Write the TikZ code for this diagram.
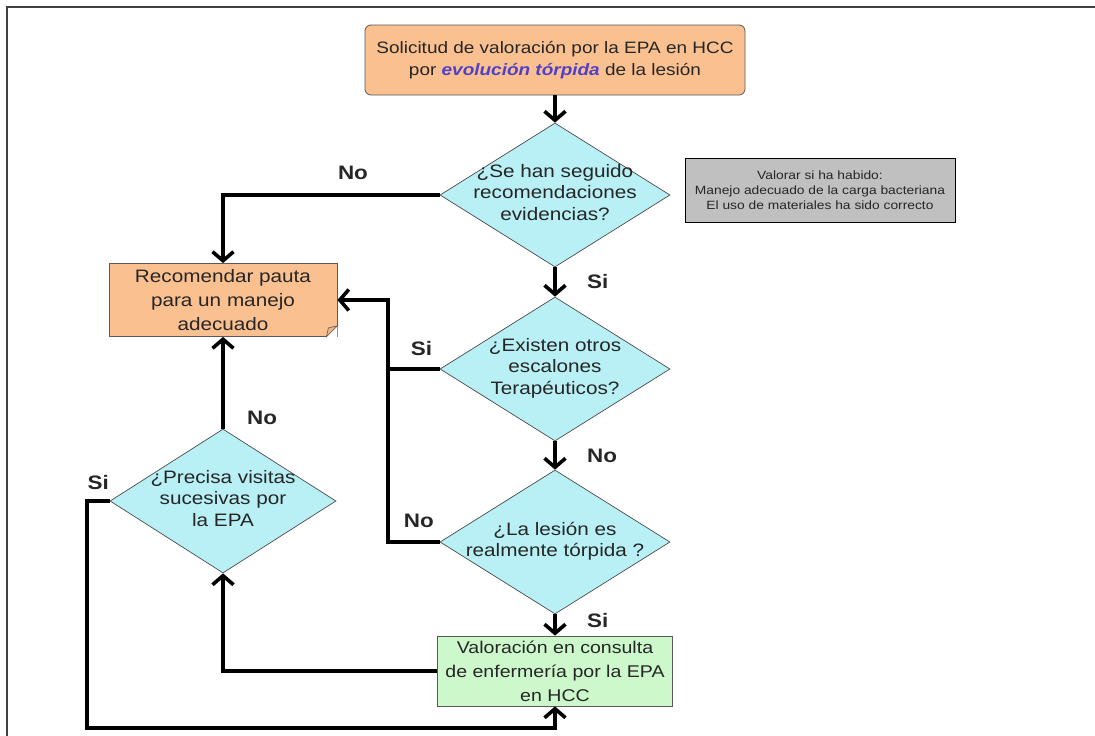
\documentclass[tikz,border=0pt]{standalone}
\usepackage{fontspec}
\setmainfont{Liberation Sans}[FakeStretch=1.15]
\usepackage{xcolor}
\usepackage{tikz}
\usetikzlibrary{arrows.meta,shapes.geometric}
\definecolor{orangex}{HTML}{FAC090}
\definecolor{cyanx}{HTML}{B8F0F5}
\definecolor{greenx}{HTML}{CCF8CC}
\definecolor{greyx}{HTML}{C0C0C0}
\definecolor{inkx}{HTML}{262626}
\definecolor{bluex}{HTML}{5040C8}
\definecolor{framex}{HTML}{404040}
\newcommand{\qtext}[1]{\raisebox{-4pt}[0pt][0pt]{\begin{tabular}{@{}c@{}}#1\end{tabular}}}
\tikzset{
  ar/.style={-{Straight Barb[length=9pt,width=21pt,line width=3.6pt]},line width=4.2pt,black},
  ln/.style={line width=4.2pt,black},
  box/.style={draw=gray!70!black,line width=0.8pt,inner sep=0pt,align=center,text=inkx},
  dec/.style={diamond,aspect=1.6,draw=gray!60!black,line width=0.7pt,fill=cyanx,inner sep=0pt,minimum width=230pt,minimum height=144pt,align=center,text=inkx,font=\fontsize{18}{21.5}\selectfont},
  lbl/.style={font=\fontsize{19.5}{22}\selectfont\bfseries,inner sep=0pt,text=inkx}
}
\begin{document}
\begin{tikzpicture}[x=1pt,y=-1pt]
\useasboundingbox (0,0) rectangle (1095,736);
\draw[framex,line width=1.5pt] (7,736) -- (7,7) -- (1095,7);
% boxes
\node[box,fill=orangex,rounded corners=6pt,minimum width=380pt,minimum height=70pt,font=\fontsize{16.5}{22}\selectfont] (sol) at (555,60)
  {Solicitud de valoración por la EPA en HCC\\por \textcolor{bluex}{\bfseries\itshape evolución tórpida} de la lesión};
\node[box,fill=greyx,draw=black,minimum width=270pt,minimum height=64pt,font=\fontsize{12}{15}\selectfont] (nota) at (820,190)
  {Valorar si ha habido:\\Manejo adecuado de la carga bacteriana\\El uso de materiales ha sido correcto};
\node[box,fill=orangex,minimum width=228pt,minimum height=73pt,font=\fontsize{18}{24}\selectfont] (rec) at (223,300)
  {Recomendar pauta\\para un manejo\\adecuado};
\node[box,fill=greenx,minimum width=235pt,minimum height=70pt,font=\fontsize{17}{24}\selectfont] (val) at (555,671)
  {Valoración en consulta\\de enfermería por la EPA\\en HCC};
% decisions
\node[dec] (d1) at (555,195) {\qtext{¿Se han seguido\\recomendaciones\\evidencias?}};
\node[dec] (d2) at (555,369) {\qtext{¿Existen otros\\escalones\\Terapéuticos?}};
\node[dec] (d3) at (555,542) {\qtext{¿La lesión es\\realmente tórpida ?}};
\node[dec,minimum width=226pt] (d4) at (223,501) {\qtext{¿Precisa visitas\\sucesivas por\\la EPA}};
% folded corner
\fill[white] ([xshift=-11pt]rec.south east) -- (rec.south east) -- ([yshift=11pt]rec.south east) -- cycle;
\filldraw[fill=orangex!80!brown,draw=gray!70!black,line width=0.6pt] ([xshift=-11pt]rec.south east) -- ([yshift=11pt]rec.south east) -- ([xshift=-9pt,yshift=9pt]rec.south east) -- cycle;
% connectors
\draw[ar] (sol.south) -- (d1.north);
\draw[ar] (d1.west) -| node[lbl,above=13pt,pos=0.2]{No} (rec.north);
\draw[ar] (d1.south) -- node[lbl,right=30pt]{Si} (d2.north);
\draw[ar] (d2.west) -- node[lbl,above=11pt,pos=0.35]{Si} ++(-52,0) |- (rec.east);
\draw[ln] (d3.west) -- node[lbl,above=12pt,pos=0.4]{No} ++(-52,0) -- ++(0,-173);
\draw[ar] (d2.south) -- node[lbl,right=30pt]{No} (d3.north);
\draw[ar] (d3.south) -- node[lbl,right=30pt,pos=0.3]{Si} (val.north);
\draw[ar] (val.west) -| (d4.south);
\draw[ar] (d4.north) -- node[lbl,right=22pt,pos=0.12]{No} (rec.south);
\draw[ar] (d4.west) -- node[lbl,above=9pt]{Si} ++(-23,0) -- ++(0,227) -| (val.south);
\end{tikzpicture}
\end{document}
